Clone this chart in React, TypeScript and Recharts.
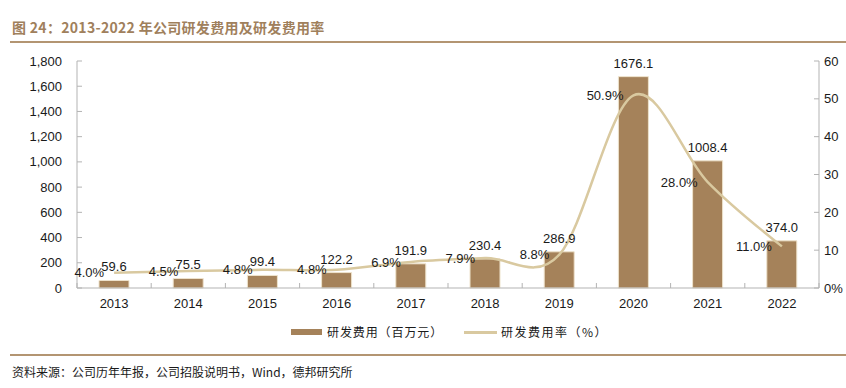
import React from 'react';
import { ComposedChart, Bar, Line, XAxis, YAxis, LabelList } from 'recharts';

const years = ['2013', '2014', '2015', '2016', '2017', '2018', '2019', '2020', '2021', '2022'];
const rdExpense = [59.6, 75.5, 99.4, 122.2, 191.9, 230.4, 286.9, 1676.1, 1008.4, 374.0];
const rdRate = [4.0, 4.5, 4.8, 4.8, 6.9, 7.9, 8.8, 50.9, 28.0, 11.0];
const leftTicks = [0, 200, 400, 600, 800, 1000, 1200, 1400, 1600, 1800];
const rightTicks = [0, 10, 20, 30, 40, 50, 60];

const title = '图 24：2013-2022 年公司研发费用及研发费用率';
const source = '资料来源：公司历年年报，公司招股说明书，Wind，德邦研究所';
const barName = '研发费用（百万元）';
const lineName = '研发费用率（%）';

const data = years.map((y, i) => ({ year: y, rd: rdExpense[i], rate: rdRate[i] }));

const W = 846;
const H = 388;
const PLOT_LEFT = 77;
const PLOT_RIGHT = 819;
const PLOT_TOP = 61;
const PLOT_BOTTOM = 288;
const LEFT_AXIS_W = 60;
const RIGHT_AXIS_W = 25;
const X_AXIS_H = 30;

const BAR_COLOR = '#a5825a';
const LINE_COLOR = '#d9c9a0';
const AXIS_COLOR = '#b3b3b3';
const TEXT_COLOR = '#1a1a1a';
const FONT = '"Liberation Sans", Arial, sans-serif';
const CJK = '"Noto Sans CJK SC", "Liberation Sans", sans-serif';

// Catmull-Rom style smoothing (similar to Excel smoothed line)
function smoothCurve(context: any) {
  const k = 1 / 6;
  let x0 = NaN, y0 = NaN, x1 = NaN, y1 = NaN, x2 = NaN, y2 = NaN;
  let pt = 0;
  let line: any = undefined;
  const seg = (x: number, y: number) => {
    context.bezierCurveTo(
      x1 + k * (x2 - x0),
      y1 + k * (y2 - y0),
      x2 + k * (x1 - x),
      y2 + k * (y1 - y),
      x2,
      y2
    );
  };
  return {
    areaStart() { line = 0; },
    areaEnd() { line = NaN; },
    lineStart() { x0 = x1 = x2 = y0 = y1 = y2 = NaN; pt = 0; },
    lineEnd() {
      if (pt === 2) context.lineTo(x2, y2);
      else if (pt === 3) seg(x1, y1);
      if (line || (line !== 0 && pt === 1)) context.closePath();
      line = 1 - line;
    },
    point(x: number, y: number) {
      x = +x; y = +y;
      switch (pt) {
        case 0: pt = 1; if (line) context.lineTo(x, y); else context.moveTo(x, y); break;
        case 1: pt = 2; x1 = x; y1 = y; break;
        case 2: pt = 3; seg(x, y); break;
        default: seg(x, y); break;
      }
      x0 = x1; x1 = x2; x2 = x;
      y0 = y1; y1 = y2; y2 = y;
    },
  };
}

const LeftTick = (props: any) => {
  const { x, y, payload } = props;
  return (
    <g>
      <line x1={x} x2={x + 5} y1={y} y2={y} stroke={AXIS_COLOR} strokeWidth={1} />
      <text x={x - 15} y={y} dy={4.5} textAnchor="end" fontSize={13} fontFamily={FONT} fill={TEXT_COLOR}>
        {Number(payload.value).toLocaleString('en-US')}
      </text>
    </g>
  );
};

const RightTick = (props: any) => {
  const { x, y, payload } = props;
  const v = Number(payload.value);
  return (
    <g>
      <line x1={x - 5} x2={x} y1={y} y2={y} stroke={AXIS_COLOR} strokeWidth={1} />
      <text x={x + 5} y={y} dy={4.5} textAnchor="start" fontSize={13} fontFamily={FONT} fill={TEXT_COLOR}>
        {v === 0 ? '0%' : String(v)}
      </text>
    </g>
  );
};

const XTick = (props: any) => {
  const { x, y, payload, index } = props;
  const half = (PLOT_RIGHT - PLOT_LEFT) / years.length / 2;
  return (
    <g>
      <line x1={x - half} x2={x - half} y1={y} y2={y - 5} stroke={AXIS_COLOR} strokeWidth={1} />
      {index === years.length - 1 ? (
        <line x1={x + half} x2={x + half} y1={y} y2={y - 5} stroke={AXIS_COLOR} strokeWidth={1} />
      ) : null}
      <text x={x} y={y + 20} textAnchor="middle" fontSize={13} fontFamily={FONT} fill={TEXT_COLOR}>
        {payload.value}
      </text>
    </g>
  );
};

export default function App() {
  return (
    <div style={{ position: 'absolute', left: 0, top: 0, width: W, height: H, background: '#fff', overflow: 'hidden' }}>
      <div
        style={{
          position: 'absolute', left: 12, top: 17, fontSize: 14, fontWeight: 'bold',
          fontFamily: CJK, color: '#a0805c', whiteSpace: 'nowrap', lineHeight: '20px', letterSpacing: 0.3,
        }}
      >
        {title}
      </div>
      <div style={{ position: 'absolute', left: 10, top: 41, width: W - 10, height: 2, background: '#b39572' }} />

      <div style={{ position: 'absolute', left: 0, top: 0 }}>
        <ComposedChart
          width={W}
          height={H}
          data={data}
          margin={{
            top: PLOT_TOP,
            bottom: H - PLOT_BOTTOM - X_AXIS_H,
            left: PLOT_LEFT - LEFT_AXIS_W,
            right: W - PLOT_RIGHT - RIGHT_AXIS_W,
          }}
        >
          <XAxis
            dataKey="year"
            interval={0}
            height={X_AXIS_H}
            axisLine={{ stroke: AXIS_COLOR, strokeWidth: 1 }}
            tickLine={false}
            tickSize={0}
            tickMargin={0}
            tick={<XTick />}
          />
          <YAxis
            yAxisId="left"
            orientation="left"
            width={LEFT_AXIS_W}
            domain={[0, 1800]}
            ticks={leftTicks}
            interval={0}
            axisLine={{ stroke: AXIS_COLOR, strokeWidth: 1 }}
            tickLine={false}
            tickSize={0}
            tickMargin={0}
            tick={<LeftTick />}
          />
          <YAxis
            yAxisId="right"
            orientation="right"
            width={RIGHT_AXIS_W}
            domain={[0, 60]}
            ticks={rightTicks}
            interval={0}
            axisLine={{ stroke: AXIS_COLOR, strokeWidth: 1 }}
            tickLine={false}
            tickSize={0}
            tickMargin={0}
            tick={<RightTick />}
          />
          <Bar
            yAxisId="left"
            dataKey="rd"
            name={barName}
            fill={BAR_COLOR}
            stroke="#eee3cc"
            strokeWidth={1}
            barSize={30}
            isAnimationActive={false}
          >
            <LabelList
              dataKey="rd"
              position="top"
              offset={9}
              formatter={(v: any) => Number(v).toFixed(1)}
              style={{ fontSize: 13, fontFamily: FONT, fill: TEXT_COLOR }}
            />
          </Bar>
          <Line
            yAxisId="right"
            dataKey="rate"
            name={lineName}
            type={smoothCurve as any}
            stroke={LINE_COLOR}
            strokeWidth={2.5}
            dot={false}
            activeDot={false}
            isAnimationActive={false}
          >
            <LabelList
              dataKey="rate"
              position="left"
              offset={10}
              formatter={(v: any) => Number(v).toFixed(1) + '%'}
              style={{ fontSize: 13, fontFamily: FONT, fill: TEXT_COLOR }}
            />
          </Line>
        </ComposedChart>
      </div>

      <div style={{ position: 'absolute', left: 291, top: 329, width: 31, height: 6, background: BAR_COLOR }} />
      <div style={{ position: 'absolute', left: 327, top: 323, fontSize: 12, lineHeight: '18px', fontFamily: CJK, color: TEXT_COLOR, whiteSpace: 'nowrap', letterSpacing: 0.9 }}>
        {barName}
      </div>
      <div style={{ position: 'absolute', left: 464, top: 331, width: 33, height: 3, background: LINE_COLOR }} />
      <div style={{ position: 'absolute', left: 501, top: 323, fontSize: 12, lineHeight: '18px', fontFamily: CJK, color: TEXT_COLOR, whiteSpace: 'nowrap', letterSpacing: 1.5 }}>
        {lineName}
      </div>

      <div style={{ position: 'absolute', left: 10, top: 354, width: W - 10, height: 2, background: '#b39572' }} />
      <div style={{ position: 'absolute', left: 12, top: 363, fontSize: 12, lineHeight: '18px', fontFamily: CJK, color: TEXT_COLOR, whiteSpace: 'nowrap' }}>
        {source}
      </div>
    </div>
  );
}
